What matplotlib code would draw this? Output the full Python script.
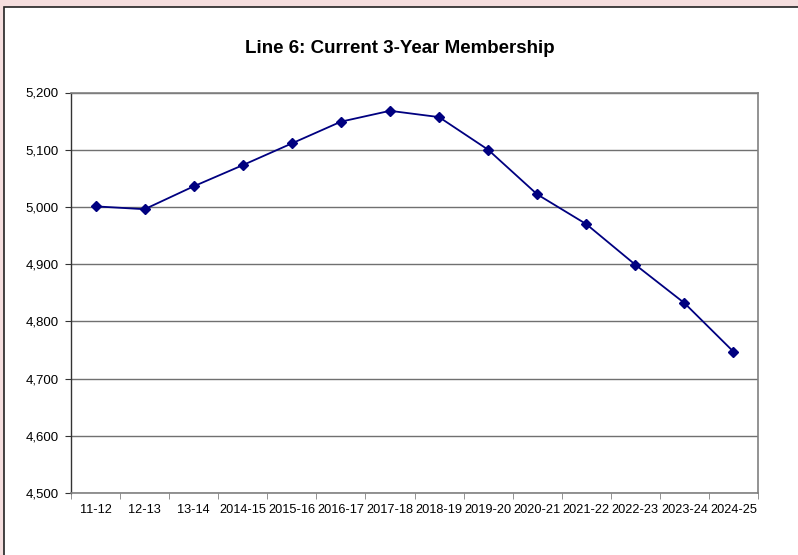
import matplotlib
matplotlib.use("Agg")
import matplotlib.pyplot as plt
from matplotlib.patches import Rectangle
from matplotlib.ticker import FuncFormatter, MultipleLocator, FixedLocator
import numpy as np

plt.rcParams['font.family'] = ['Liberation Sans', 'DejaVu Sans']

categories = ["11-12", "12-13", "13-14", "2014-15", "2015-16", "2016-17", "2017-18",
              "2018-19", "2019-20", "2020-21", "2021-22", "2022-23", "2023-24", "2024-25"]
membership = [5001, 4996, 5036, 5073, 5111, 5149, 5168,
              5157, 5100, 5022, 4970, 4899, 4832, 4747]
title = "Line 6: Current 3-Year Membership"

W, H = 798, 555
fig = plt.figure(figsize=(W/100, H/100), dpi=100, facecolor="#f5dede")
# chart area (white with dark border)
fig.patches.append(Rectangle((4/W, -0.01), 1.0, 1.01 - 7/H, transform=fig.transFigure,
                             facecolor="white", edgecolor="#222222", linewidth=1.2, zorder=-10))

ax = fig.add_axes([71/W, 1 - 493/H, (758-71)/W, (493-92.5)/H])
ax.set_zorder(1)
ax.set_facecolor("white")
x = np.arange(len(categories))
ax.plot(x, membership, color="#000080", linewidth=1.3, marker="D", markersize=5.5,
        markerfacecolor="#000080", markeredgecolor="#000080", zorder=3)

ax.set_xlim(-0.5, len(categories) - 0.5)
ax.set_ylim(4500, 5200)
ax.yaxis.set_major_locator(MultipleLocator(100))
ax.yaxis.set_major_formatter(FuncFormatter(lambda v, p: f"{int(v):,}"))
ax.grid(axis="y", color="#707070", linewidth=1.0, zorder=1)
ax.set_axisbelow(True)

ax.set_xticks(x)
ax.set_xticklabels(categories, fontsize=9.2)
ax.xaxis.set_minor_locator(FixedLocator(np.arange(-0.5, len(categories), 1)))
ax.tick_params(axis="x", which="major", length=0, pad=8)
ax.tick_params(axis="x", which="minor", length=4, color="#808080", direction="out")
ax.tick_params(axis="y", length=4, color="#333333", direction="out", labelsize=9.5, pad=5)

for s in ["top", "right", "bottom"]:
    ax.spines[s].set_color("#808080")
    ax.spines[s].set_linewidth(1.2)
ax.spines["left"].set_color("#333333")
ax.spines["left"].set_linewidth(1.0)

fig.text(400/W, 1 - 48.5/H, title, ha="center", va="center", fontsize=13.5, fontweight="bold")

fig.savefig("out.png", dpi=100, facecolor=fig.get_facecolor())
